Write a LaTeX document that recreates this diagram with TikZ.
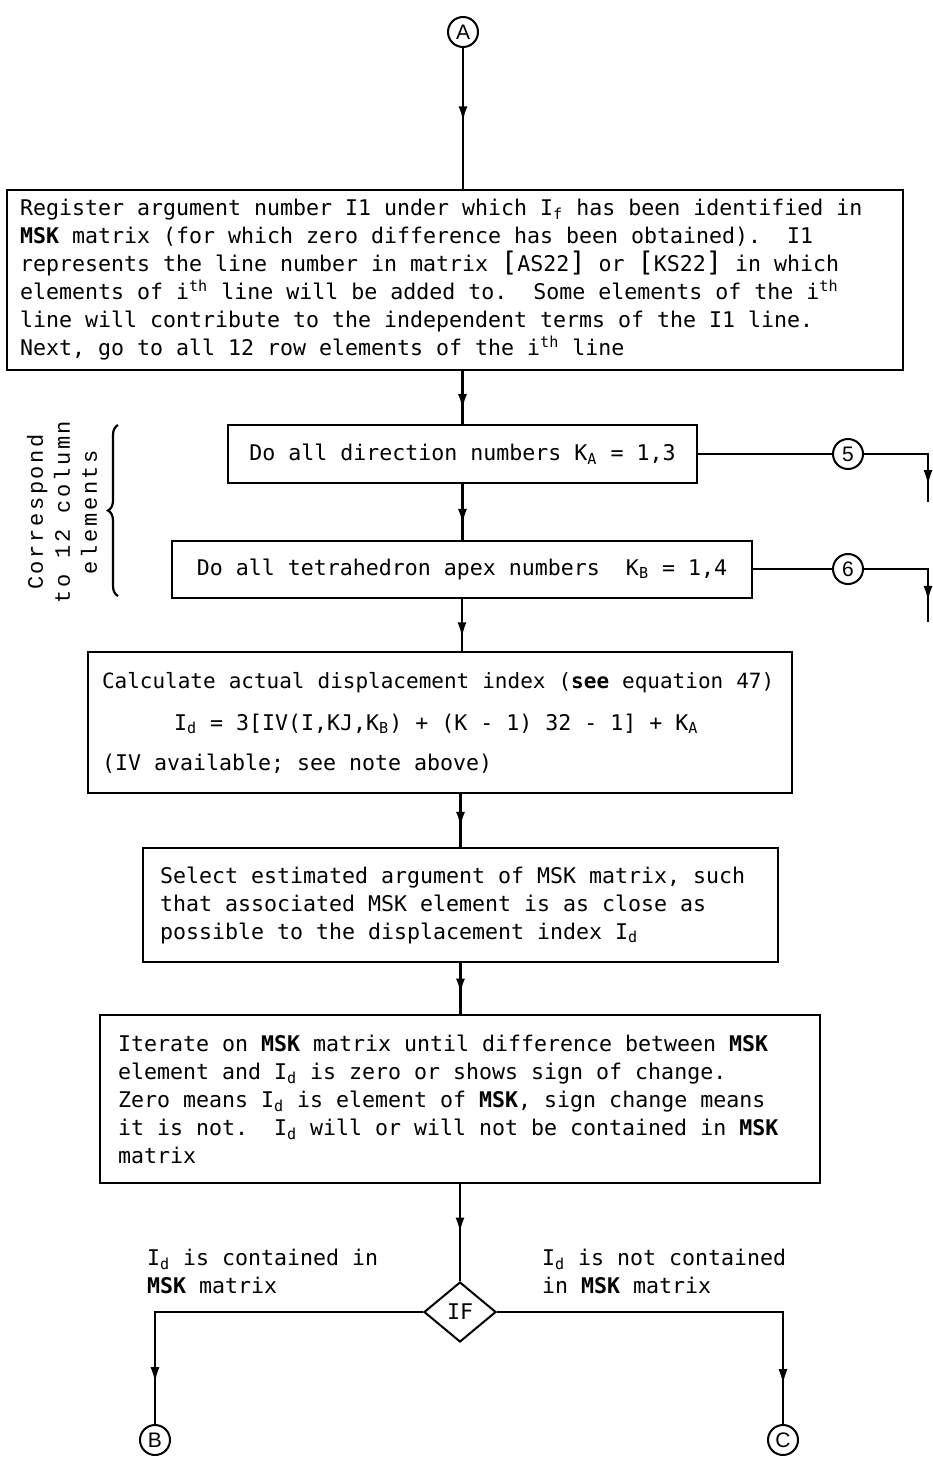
\documentclass[tikz,border=0pt]{standalone}
\usepackage{fontspec}
\setmainfont{DejaVu Sans}
\setsansfont{Liberation Sans}
\setmonofont{DejaVu Sans Mono}
\newfontfamily\bracefont[LetterSpace=12]{Liberation Mono}
\usetikzlibrary{arrows.meta,shapes.geometric,decorations.markings,decorations.pathreplacing}

\newcommand\sbs[1]{\textsubscript{#1}}
\newcommand\sps[1]{\textsuperscript{#1}}
% tall matrix brackets
\newcommand\mbr[1]{{\fontsize{13.5}{13.5}\selectfont[}#1{\fontsize{13.5}{13.5}\selectfont]}}
% typewriter text with full-width word spaces (also inside ragged paragraphs)
\newcommand\monotext{\ttfamily\frenchspacing\fontsize{10.8}{14}\selectfont}
\newcommand\wsp{\spaceskip=0.602em\relax\xspaceskip=0.602em\relax}

\begin{document}
\begin{tikzpicture}[x=0.5pt,y=-0.5pt,
  every node/.style={font=\monotext},
  procbox/.style={draw, rectangle, line width=1pt, inner ysep=0pt, align=left},
  connector/.style={circle, draw, line width=1pt, minimum size=15pt, inner sep=0pt,
    font=\sffamily\fontsize{10.5}{10.5}\selectfont},
  flow/.style={line width=1.1pt},
  midarrow/.style={postaction={decorate},
    decoration={markings, mark=at position #1 with {\arrow{Latex[length=7.5pt,width=4.5pt]}}}},
  midarrow/.default=0.65]

\useasboundingbox (0,0) rectangle (932,1467);

% entry connector
\node[connector] (A) at (463,32) {A};

% register argument
\node[procbox, minimum width=448pt, minimum height=90pt, text width=435pt, inner xsep=6.5pt] (b1) at (455,280)
{\wsp Register argument number I1 under which I\sbs{f} has been identified in\\
\textbf{MSK} matrix (for which zero difference has been obtained).\ \ I1\\
represents the line number in matrix \mbr{AS22} or \mbr{KS22} in which\\
elements of i\sps{th} line will be added to.\ \ Some elements of the i\sps{th}\\
line will contribute to the independent terms of the I1 line.\\
Next, go to all 12 row elements of the i\sps{th} line};

% loops
\node[procbox, align=center, minimum width=234.5pt, minimum height=29pt] (b2) at (462.5,454)
{Do all direction numbers K\sbs{A} = 1,3};
\node[procbox, align=center, minimum width=290pt, minimum height=28.5pt] (b3) at (462,569)
{Do all tetrahedron apex numbers\ \ K\sbs{B} = 1,4};

\node[connector] (c5) at (848,454) {5};
\node[connector] (c6) at (848,569) {6};
\coordinate (e5) at (928,502);
\coordinate (e6) at (928,622);

% loop note with brace
\node[rotate=90, align=center, font=\bracefont\fontsize{11}{13.5}\selectfont] (note) at (62,512)
{Correspond\\to 12 column\\elements};
\coordinate (brlow) at (118,596);
\coordinate (brhigh) at (118,425);
\draw[line width=1.1pt, decorate, decoration={brace, amplitude=5pt}] (brlow) -- (brhigh);

% displacement index
\node[procbox, minimum width=352pt, minimum height=70.5pt, text width=338pt, inner xsep=7pt] (b4) at (440,722.5)
{\wsp\mbox{\fontsize{10.5}{14}\selectfont Calculate actual displacement index (\textbf{see} equation 47)}\\[7pt]
\hspace*{36pt}I\sbs{d} = 3[IV(I,KJ,K\sbs{B}) + (K - 1) 32 - 1] + K\sbs{A}\\[6pt]
(IV available; see note above)};

\node[procbox, minimum width=317.5pt, minimum height=57pt, text width=300.5pt, inner xsep=8.5pt] (b5) at (460.5,905)
{\wsp Select estimated argument of MSK matrix, such\\
that associated MSK element is as close as\\
possible to the displacement index I\sbs{d}};

\node[procbox, minimum width=360pt, minimum height=84pt, text width=342pt, inner xsep=9pt] (b6) at (460,1099)
{\wsp Iterate on \textbf{MSK} matrix until difference between \textbf{MSK}\\
element and I\sbs{d} is zero or shows sign of change.\\
Zero means I\sbs{d} is element of \textbf{MSK}, sign change means\\
it is not.\ \ I\sbs{d} will or will not be contained in \textbf{MSK}\\
matrix};

% decision
\node[diamond, draw, line width=1pt, minimum width=36pt, minimum height=30pt, inner sep=0pt] (IF) at (460,1312) {IF};
\node[anchor=west, align=left] (lblyes) at (140,1271) {I\sbs{d} is contained in\\\textbf{MSK} matrix};
\node[anchor=west, align=left] (lblno) at (535,1271) {I\sbs{d} is not contained\\in \textbf{MSK} matrix};

\node[connector] (B) at (155,1440) {B};
\node[connector] (C) at (783,1440) {C};

% connectors
\draw[flow, midarrow=0.52] (A.south) -- (A.south |- b1.north);
\draw[flow, midarrow=0.72] (b2.north |- b1.south) -- (b2.north);
\draw[flow, midarrow=0.72] (b2.south) -- (b2.south |- b3.north);
\draw[flow, midarrow=0.74] (b3.south) -- (b3.south |- b4.north);
\draw[flow, midarrow=0.62] (b5.north |- b4.south) -- (b5.north);
\draw[flow, midarrow=0.6] (b5.south) -- (b5.south |- b6.north);
\draw[flow, midarrow=0.5] (IF.north |- b6.south) -- (IF.north);

\draw[flow] (b2.east) -- (c5.west);
\draw[flow, midarrow=0.85] (c5.east) -| (e5);
\draw[flow] (b3.east) -- (c6.west);
\draw[flow, midarrow=0.82] (c6.east) -| (e6);

\draw[flow, midarrow=0.89] (IF.west) -| (B.north);
\draw[flow, midarrow=0.9] (IF.east) -| (C.north);

\end{tikzpicture}
\end{document}
